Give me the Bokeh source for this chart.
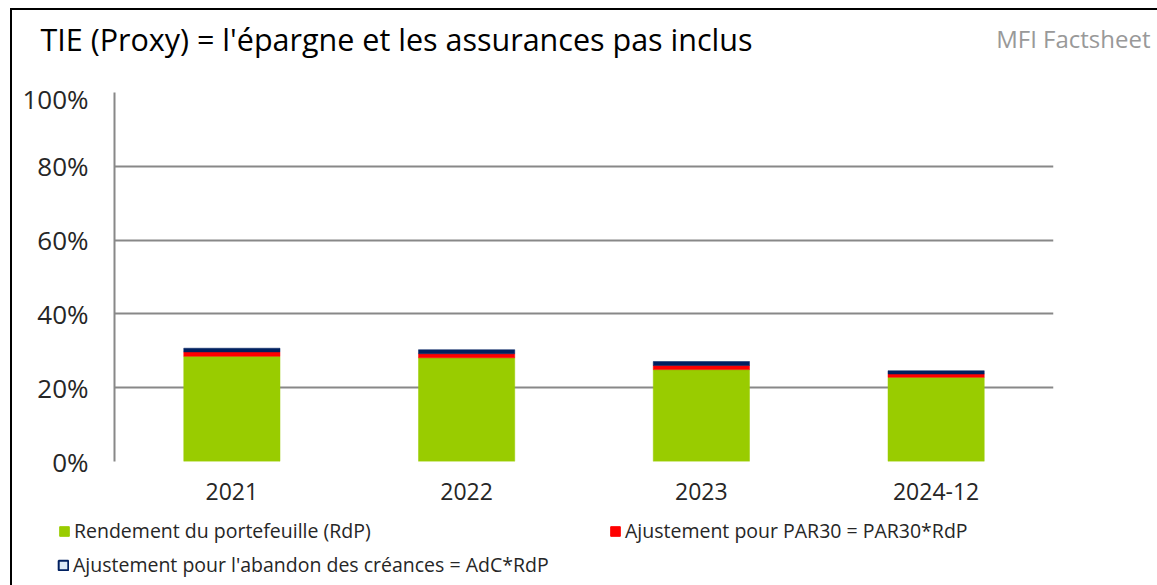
from bokeh.plotting import figure
from bokeh.layouts import column
from bokeh.models import (ColumnDataSource, FactorRange, Range1d, Legend, LegendItem,
                          Label, NumeralTickFormatter, FixedTicker)
from bokeh.embed import file_html
from bokeh.resources import INLINE

# ---- data ----
categories = ["2021", "2022", "2023", "2024-12"]
rdp = [0.285, 0.281, 0.249, 0.228]
par30 = [0.012, 0.011, 0.011, 0.009]
adc = [0.010, 0.011, 0.011, 0.009]
y_ticks = [0.0, 0.2, 0.4, 0.6, 0.8, 1.0]
series_keys = ["rdp", "par30", "adc"]
series_labels = ["Rendement du portefeuille (RdP)",
                 "Ajustement pour PAR30 = PAR30*RdP",
                 "Ajustement pour l'abandon des créances = AdC*RdP"]
series_colors = ["#99CC00", "#FF0000", "#002060"]
title_text = "TIE  (Proxy) = l'épargne et les assurances pas inclus"
source_text = "MFI Factsheet"

FONT = "Open Sans"
W = 1145


def blank_figure(height):
    f = figure(width=W, height=height, output_backend="svg", toolbar_location=None,
               x_axis_location=None, y_axis_location=None,
               x_range=Range1d(0, 1), y_range=Range1d(0, 1),
               min_border=0, min_border_left=0, min_border_right=0,
               min_border_top=0, min_border_bottom=0)
    f.frame_align = False
    f.outline_line_color = None
    f.xgrid.grid_line_color = None
    f.ygrid.grid_line_color = None
    f.border_fill_color = "white"
    f.background_fill_color = "white"
    return f


# ---- header ----
head = blank_figure(70)
head.add_layout(Label(x=28, y=42, x_units="screen", y_units="screen", text=title_text,
                      text_font=FONT, text_font_size="30.5px", text_color="#000000",
                      text_baseline="middle", text_align="left"))
head.add_layout(Label(x=1138, y=42, x_units="screen", y_units="screen", text=source_text,
                      text_font=FONT, text_font_size="24px", text_color="#999999",
                      text_baseline="middle", text_align="right"))

# ---- main chart ----
src = ColumnDataSource(dict(cat=categories, rdp=rdp, par30=par30, adc=adc))

p = figure(x_range=FactorRange(*categories, range_padding=0), y_range=Range1d(0, 1),
           width=W, height=435, output_backend="svg", toolbar_location=None,
           min_border_left=102, min_border_right=104, min_border_top=12, min_border_bottom=54)
p.frame_align = False
p.outline_line_color = None
p.background_fill_color = "white"
p.border_fill_color = "white"

renderers = p.vbar_stack(series_keys, x="cat", width=0.41, source=src,
                         fill_color=series_colors, line_color=series_colors, line_width=0.5)

p.yaxis.ticker = FixedTicker(ticks=y_ticks)
p.yaxis.formatter = NumeralTickFormatter(format="0%")
p.yaxis.axis_line_color = "#888888"
p.yaxis.axis_line_width = 2
p.yaxis.major_tick_line_color = None
p.yaxis.minor_tick_line_color = None
p.yaxis.major_tick_out = 0
p.yaxis.minor_tick_out = 0
p.yaxis.major_label_standoff = 26
p.yaxis.major_label_text_font = FONT
p.yaxis.major_label_text_font_size = "26px"
p.yaxis.major_label_text_color = "#262626"

p.xaxis.axis_line_color = None
p.xaxis.major_tick_line_color = None
p.xaxis.minor_tick_line_color = None
p.xaxis.major_tick_out = 0
p.xaxis.minor_tick_out = 0
p.xaxis.major_label_standoff = 21
p.xaxis.major_label_text_font = FONT
p.xaxis.major_label_text_font_size = "23px"
p.xaxis.major_label_text_color = "#262626"

p.xgrid.grid_line_color = None
p.ygrid.grid_line_color = "#888888"
p.ygrid.grid_line_width = 2

# ---- legend ----
leg_fig = blank_figure(70)
hidden = ColumnDataSource(dict(x=[-1], y=[-1]))  # off-range, only feeds the swatches
sw = [leg_fig.rect(x="x", y="y", width=0.1, height=0.1, source=hidden,
                   fill_color=series_colors[0], line_color=series_colors[0]),
      leg_fig.rect(x="x", y="y", width=0.1, height=0.1, source=hidden,
                   fill_color=series_colors[1], line_color=series_colors[1]),
      leg_fig.rect(x="x", y="y", width=0.1, height=0.1, source=hidden,
                   fill_color="#DDEBF7", line_color=series_colors[2], line_width=2)]

legA = Legend(items=[LegendItem(label=series_labels[0], renderers=[sw[0]]),
                     LegendItem(label=series_labels[1], renderers=[sw[1]])],
              orientation="horizontal", location=(46, 41), label_width=535)
legB = Legend(items=[LegendItem(label=series_labels[2], renderers=[sw[2]])],
              orientation="vertical", location=(45, 7))
for lg in (legA, legB):
    lg.padding = 0
    lg.margin = 0
    lg.spacing = 0
    lg.glyph_width = 12
    lg.glyph_height = 12
    lg.label_standoff = 4
    lg.label_text_font = FONT
    lg.label_text_font_size = "19.5px"
    lg.label_text_color = "#262626"
    lg.background_fill_alpha = 0
    lg.border_line_alpha = 0
    leg_fig.add_layout(lg)

layout = column(head, p, leg_fig, spacing=0,
                styles={"border-left": "2px solid black", "border-top": "2px solid black",
                        "margin-left": "10px", "margin-top": "8px"})

open("out.html", "w").write(file_html(layout, INLINE))
